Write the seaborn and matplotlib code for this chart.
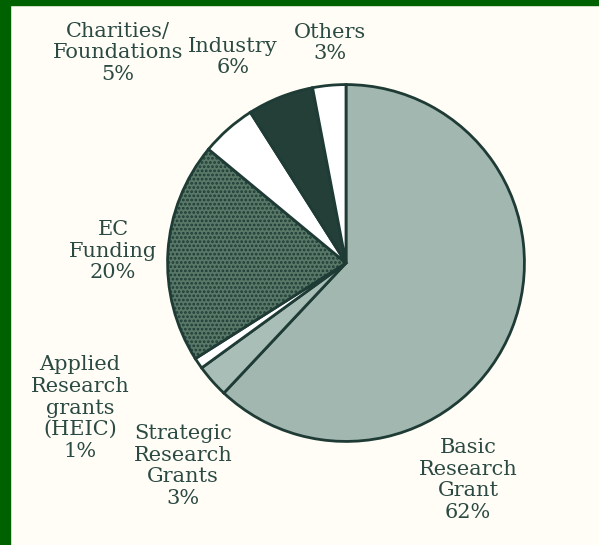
import matplotlib
matplotlib.use("Agg")
import matplotlib.pyplot as plt
from matplotlib.patches import Rectangle
import seaborn as sns

# Research funding shares, drawn clockwise from 12 o'clock
sources = ["Basic Research Grant", "Strategic Research Grants",
           "Applied Research grants (HEIC)", "EC Funding",
           "Charities/Foundations", "Industry", "Others"]
shares = [62, 3, 1, 20, 5, 6, 3]
label_lines = [
    "Basic\nResearch\nGrant\n62%",
    "Strategic\nResearch\nGrants\n3%",
    "Applied\nResearch\ngrants\n(HEIC)\n1%",
    "EC\nFunding\n20%",
    "Charities/\nFoundations\n5%",
    "Industry\n6%",
    "Others\n3%",
]

sns.set_theme(style="white")
plt.rcParams["font.family"] = ["DejaVu Serif", "Liberation Serif"]
plt.rcParams["hatch.linewidth"] = 1.3

paper = "#fffdf6"
ink = "#1f3b35"
fills = ["#a1b7af", "#a9beb6", "#ffffff", "#587868", "#ffffff", "#243e38", "#ffffff"]
hatches = [None, None, None, "....", None, None, None]

W, H = 599, 545
fig = plt.figure(figsize=(W / 100, H / 100), dpi=100, facecolor=paper)

# pie axes: centre (346, 263) px, radius 182 px
cx, cy, r = 346, 263, 182
ax = fig.add_axes([(cx - r) / W, (H - cy - r) / H, 2 * r / W, 2 * r / H])
ax.set_facecolor(paper)
wedges, _ = ax.pie(shares, colors=fills, startangle=90, counterclock=False,
                   radius=1.0,
                   wedgeprops=dict(edgecolor=ink, linewidth=2.0))
for w, h in zip(wedges, hatches):
    if h:
        w.set_hatch(h)
ax.set_xlim(-1.02, 1.02)
ax.set_ylim(-1.02, 1.02)
ax.set_aspect("equal")
ax.axis("off")

# category labels, placed in pixel positions around the pie
label_pos = [(468, 480), (183, 466), (80, 408), (113, 251),
             (118, 53), (233, 57), (330, 43)]
for text, (px, py) in zip(label_lines, label_pos):
    fig.text(px / W, 1 - py / H, text, ha="center", va="center",
             fontsize=15, color="#2b4a43", linespacing=1.17)

# dark green frame on the left and top edges
fig.add_artist(Rectangle((0, 0), 10 / W, 1, transform=fig.transFigure,
                         color="#006100", zorder=10))
fig.add_artist(Rectangle((0, 1 - 5 / H), 1, 5 / H, transform=fig.transFigure,
                         color="#006100", zorder=10))

fig.savefig("out.png", dpi=100, facecolor=paper)
